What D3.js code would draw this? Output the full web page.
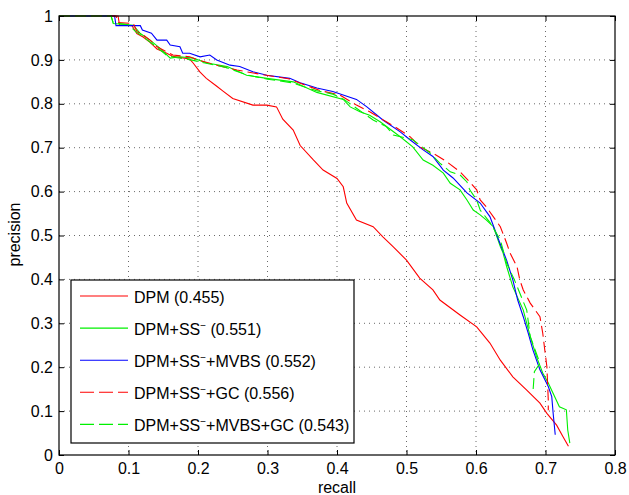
<!DOCTYPE html>
<html>
<head>
<meta charset="utf-8">
<script src="https://cdn.jsdelivr.net/npm/d3@7"></script>
<style>
  body { margin: 0; background: #fff; }
  text { font-family: "Liberation Sans", Arial, sans-serif; }
</style>
</head>
<body>
<svg id="chart"></svg>
<script>
// data
const dpmRecall = [0, 0.085, 0.087, 0.105, 0.112, 0.121, 0.131, 0.141, 0.155, 0.164, 0.188, 0.193, 0.203, 0.212, 0.227, 0.236, 0.25, 0.279, 0.299, 0.313, 0.322, 0.337, 0.347, 0.366, 0.38, 0.40, 0.409, 0.414, 0.428, 0.452, 0.466, 0.481, 0.50, 0.519, 0.538, 0.548, 0.577, 0.601, 0.62, 0.635, 0.653, 0.673, 0.692, 0.702, 0.716, 0.725, 0.733];
const dpmPrecision = [1, 1, 0.98, 0.978, 0.96, 0.952, 0.94, 0.925, 0.915, 0.908, 0.902, 0.893, 0.872, 0.858, 0.84, 0.829, 0.812, 0.797, 0.797, 0.793, 0.765, 0.74, 0.705, 0.672, 0.649, 0.63, 0.611, 0.574, 0.535, 0.52, 0.497, 0.474, 0.444, 0.403, 0.376, 0.353, 0.319, 0.292, 0.255, 0.216, 0.178, 0.148, 0.118, 0.095, 0.068, 0.042, 0.02];

const ssRecall = [0, 0.075, 0.078, 0.107, 0.117, 0.131, 0.145, 0.16, 0.174, 0.193, 0.213, 0.242, 0.27, 0.299, 0.337, 0.371, 0.409, 0.419, 0.433, 0.447, 0.462, 0.491, 0.509, 0.524, 0.538, 0.553, 0.563, 0.577, 0.587, 0.596, 0.606, 0.615, 0.625, 0.635, 0.639, 0.644, 0.653, 0.668, 0.678, 0.687, 0.696, 0.704, 0.72, 0.73, 0.732, 0.735];
const ssPrecision = [1, 1, 0.983, 0.979, 0.96, 0.945, 0.927, 0.904, 0.907, 0.904, 0.893, 0.885, 0.865, 0.858, 0.85, 0.826, 0.81, 0.793, 0.782, 0.774, 0.759, 0.725, 0.702, 0.672, 0.66, 0.642, 0.619, 0.604, 0.581, 0.558, 0.547, 0.535, 0.52, 0.475, 0.46, 0.43, 0.383, 0.33, 0.27, 0.224, 0.187, 0.164, 0.11, 0.103, 0.057, 0.027];

const mvbsRecall = [0, 0.08, 0.082, 0.117, 0.12, 0.133, 0.141, 0.155, 0.16, 0.174, 0.178, 0.188, 0.203, 0.217, 0.227, 0.246, 0.26, 0.279, 0.299, 0.332, 0.347, 0.371, 0.394, 0.428, 0.443, 0.466, 0.491, 0.505, 0.524, 0.538, 0.553, 0.567, 0.587, 0.606, 0.62, 0.635, 0.644, 0.653, 0.66, 0.668, 0.675, 0.682, 0.692, 0.704, 0.709, 0.711, 0.714];
const mvbsPrecision = [1, 1, 0.978, 0.978, 0.968, 0.961, 0.945, 0.945, 0.934, 0.93, 0.915, 0.915, 0.907, 0.911, 0.90, 0.888, 0.885, 0.873, 0.865, 0.858, 0.848, 0.836, 0.828, 0.81, 0.793, 0.763, 0.736, 0.718, 0.695, 0.68, 0.649, 0.631, 0.597, 0.574, 0.543, 0.48, 0.444, 0.399, 0.353, 0.315, 0.278, 0.239, 0.194, 0.156, 0.133, 0.095, 0.046];

const gcRecall = [0, 0.082, 0.085, 0.107, 0.112, 0.121, 0.131, 0.141, 0.155, 0.164, 0.188, 0.2, 0.227, 0.256, 0.294, 0.33, 0.376, 0.404, 0.428, 0.447, 0.471, 0.486, 0.505, 0.515, 0.519, 0.543, 0.558, 0.577, 0.591, 0.601, 0.606, 0.615, 0.635, 0.644, 0.649, 0.659, 0.663, 0.668, 0.678, 0.692, 0.696, 0.699, 0.702, 0.704, 0.704];
const gcPrecision = [1, 1, 0.985, 0.983, 0.965, 0.957, 0.945, 0.93, 0.918, 0.911, 0.907, 0.9, 0.888, 0.877, 0.866, 0.857, 0.83, 0.82, 0.797, 0.782, 0.759, 0.745, 0.725, 0.71, 0.702, 0.683, 0.668, 0.645, 0.622, 0.604, 0.581, 0.565, 0.52, 0.483, 0.46, 0.429, 0.399, 0.376, 0.346, 0.315, 0.278, 0.239, 0.201, 0.125, 0.102];

const allRecall = [0, 0.075, 0.078, 0.1, 0.11, 0.125, 0.14, 0.155, 0.17, 0.19, 0.21, 0.24, 0.27, 0.3, 0.335, 0.37, 0.394, 0.41, 0.428, 0.452, 0.471, 0.481, 0.509, 0.534, 0.548, 0.563, 0.577, 0.587, 0.591, 0.601, 0.606, 0.62, 0.635, 0.644, 0.655, 0.673, 0.678, 0.692, 0.684, 0.682];
const allPrecision = [1, 1, 0.985, 0.98, 0.965, 0.948, 0.93, 0.91, 0.905, 0.9, 0.893, 0.883, 0.866, 0.856, 0.848, 0.83, 0.822, 0.81, 0.79, 0.763, 0.748, 0.729, 0.718, 0.688, 0.665, 0.645, 0.638, 0.622, 0.604, 0.581, 0.558, 0.53, 0.49, 0.437, 0.4, 0.33, 0.27, 0.209, 0.19, 0.144];

const seriesNames = ["DPM", "DPM+SS", "DPM+SS+MVBS", "DPM+SS+GC", "DPM+SS+MVBS+GC"];
const seriesAP = ["0.455", "0.551", "0.552", "0.556", "0.543"];
const seriesColors = ["#ff0000", "#00f000", "#0000ff", "#ff0000", "#00f000"];
const seriesDashed = [false, false, false, true, true];
const xTicks = [0, 0.1, 0.2, 0.3, 0.4, 0.5, 0.6, 0.7, 0.8];
const yTicks = [0, 0.1, 0.2, 0.3, 0.4, 0.5, 0.6, 0.7, 0.8, 0.9, 1];

const recalls = [dpmRecall, ssRecall, mvbsRecall, gcRecall, allRecall];
const precisions = [dpmPrecision, ssPrecision, mvbsPrecision, gcPrecision, allPrecision];

var fontSize = "16px";

var margin = { top: 16, right: 14, bottom: 40, left: 59 },
    width = 629 - margin.left - margin.right,
    height = 495 - margin.top - margin.bottom;

const svg = d3.select("#chart")
    .attr("width", 629)
    .attr("height", 495)
    .append("g")
    .attr("transform", "translate(" + margin.left + "," + margin.top + ")");

var x = d3.scaleLinear().domain([0, 0.8]).range([0, width]);
var y = d3.scaleLinear().domain([0, 1]).range([height, 0]);

// dotted grid
svg.append("g").selectAll("line")
    .data(xTicks.slice(1, -1))
    .enter().append("line")
    .attr("x1", d => x(d)).attr("x2", d => x(d))
    .attr("y1", 0).attr("y2", height)
    .attr("stroke", "#444").attr("stroke-width", 0.8)
    .attr("stroke-dasharray", "1,4");
svg.append("g").selectAll("line")
    .data(yTicks.slice(1, -1))
    .enter().append("line")
    .attr("y1", d => y(d)).attr("y2", d => y(d))
    .attr("x1", 0).attr("x2", width)
    .attr("stroke", "#444").attr("stroke-width", 0.8)
    .attr("stroke-dasharray", "1,4");

// curves
var line = d3.line()
    .x(d => x(d[0]))
    .y(d => y(d[1]));

recalls.forEach(function (r, i) {
    var pts = r.map((v, j) => [v, precisions[i][j]]);
    svg.append("path")
        .datum(pts)
        .attr("fill", "none")
        .attr("stroke", seriesColors[i])
        .attr("stroke-width", 1.1)
        .attr("stroke-dasharray", seriesDashed[i] ? "11,5" : null)
        .attr("d", line);
});

// axes, ticks inside on all four sides
function styleAxis(g) {
    g.select(".domain").remove();
    g.selectAll(".tick line").attr("stroke", "#000");
    g.selectAll(".tick text")
        .attr("fill", "#000")
        .style("font-size", fontSize)
        .style("font-family", "'Liberation Sans', Arial, sans-serif");
}
svg.append("g")
    .attr("transform", "translate(0," + height + ")")
    .call(d3.axisBottom(x).tickValues(xTicks).tickFormat(d3.format("~g")).tickSizeInner(-5).tickPadding(8))
    .call(styleAxis);
svg.append("g")
    .call(d3.axisLeft(y).tickValues(yTicks).tickFormat(d3.format("~g")).tickSizeInner(-5).tickPadding(6))
    .call(styleAxis);
svg.append("g")
    .call(d3.axisTop(x).tickValues(xTicks).tickFormat("").tickSizeInner(-5))
    .call(styleAxis);
svg.append("g")
    .attr("transform", "translate(" + width + ",0)")
    .call(d3.axisRight(y).tickValues(yTicks).tickFormat("").tickSizeInner(-5))
    .call(styleAxis);

svg.append("rect")
    .attr("width", width).attr("height", height)
    .attr("fill", "none").attr("stroke", "#000").attr("stroke-width", 1.2);

// axis titles
svg.append("text")
    .attr("x", width / 2).attr("y", height + 38)
    .attr("text-anchor", "middle")
    .style("font-size", fontSize)
    .text("recall");
svg.append("text")
    .attr("transform", "rotate(-90)")
    .attr("x", -height / 2 + 1).attr("y", -39)
    .attr("text-anchor", "middle")
    .style("font-size", fontSize)
    .text("precision");

// legend
const legend = svg.append("g").attr("transform", "translate(12,264)");
legend.append("rect")
    .attr("width", 283).attr("height", 163)
    .attr("fill", "#fff").attr("stroke", "#000").attr("stroke-width", 1.2);

seriesNames.forEach(function (name, i) {
    var ly = 16 + i * 32.1;
    legend.append("line")
        .attr("x1", 9).attr("x2", 57)
        .attr("y1", ly).attr("y2", ly)
        .attr("stroke", seriesColors[i])
        .attr("stroke-width", 1.1)
        .attr("stroke-dasharray", seriesDashed[i] ? "14,5" : null);
    var t = legend.append("text")
        .attr("x", 63).attr("y", ly + 7)
        .style("font-size", fontSize);
    if (i === 0) {
        t.text(name + " (" + seriesAP[i] + ")");
    } else {
        var parts = name.split("SS");
        t.append("tspan").text(parts[0] + "SS");
        t.append("tspan").attr("dy", -6).style("font-size", "10px").text("\u2212");
        t.append("tspan").attr("dy", 6).text(parts[1] + " (" + seriesAP[i] + ")");
    }
});
</script>
</body>
</html>
